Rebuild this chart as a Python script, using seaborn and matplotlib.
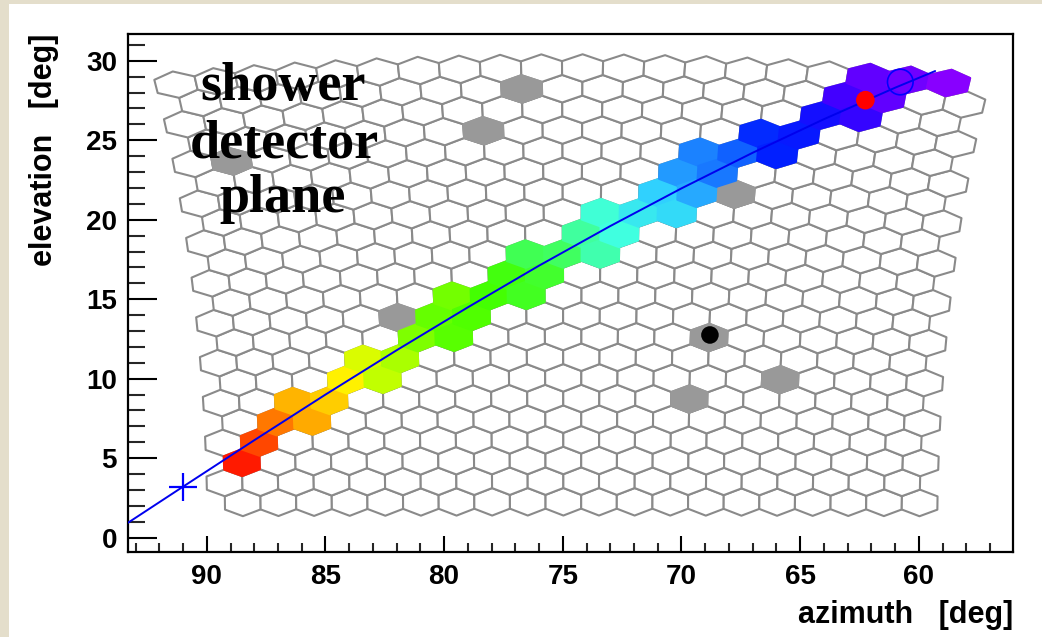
import numpy as np
import matplotlib
matplotlib.use("Agg")
import matplotlib.pyplot as plt
import seaborn as sns
import pandas as pd
from matplotlib.collections import PolyCollection
from matplotlib.colors import LinearSegmentedColormap
from matplotlib.patches import Rectangle
from matplotlib.ticker import MultipleLocator

# ---------------- data ----------------
# camera: 22 rows x 20 columns of 1.5 deg hexagonal pixels
n_rows, n_cols = 22, 20
pixel_deg = 1.5
axis_az, axis_el = 74.6, 15.9          # camera pointing

# triggered pixels on the track (row, column, pulse time in arbitrary units)
track_rows = [2, 3, 4, 5, 4, 5, 6, 7, 6, 7, 8, 9, 8, 10, 9, 10, 11, 10, 11, 12,
              12, 13, 12, 14, 13, 14, 15, 14, 16, 15, 17, 16, 17, 18, 17, 18, 19, 20, 19, 21,
              20, 21, 21]
track_cols = [0, 1, 1, 2, 2, 3, 3, 4, 4, 5, 5, 6, 6, 6, 7, 7, 8, 8, 9, 8,
              9, 10, 10, 10, 11, 11, 12, 12, 12, 13, 13, 13, 14, 14, 15, 15, 16, 16, 17, 17,
              17, 18, 19]
track_times = [0, 6, 13, 20, 19, 25, 30, 33, 35, 37, 40, 42, 43, 41, 44, 45, 46, 47, 48, 50,
               51, 55, 56, 59, 60, 62, 64, 63, 68, 67, 70, 71, 73, 78, 79, 81, 84, 88, 87, 92,
               92, 95, 100]

# noise pixels (triggered, off track)
noise_rows = [20, 18, 17, 15, 9, 8, 5, 6]
noise_cols = [8, 7, 1, 14, 5, 13, 13, 15]

# reconstructed shower-detector-plane track (azimuth, elevation)
line_az = [93.32, 91.0, 88.0, 85.0, 82.0, 79.0, 76.0, 73.0, 70.0, 67.0, 64.0, 61.0, 59.31]
line_el = [0.94, 3.21, 6.13, 9.0, 11.79, 14.49, 17.11, 19.6, 21.97, 24.21, 26.32, 28.3, 29.35]

# special points
cross_az, cross_el = [90.99], [3.18]
red_az, red_el = [62.25], [27.52]
black_az, black_el = [68.8], [12.75]
ring_az, ring_el = [60.78], [28.66]

# axes
x_range = (93.32, 56.03)
y_range = (-0.90, 31.68)

# ---------------- geometry helpers ----------------
def cam_to_sky(u, v):
    u = np.radians(u)
    ve = np.radians(v + axis_el)
    el = np.degrees(np.arcsin(np.cos(u) * np.sin(ve)))
    az = axis_az + np.degrees(np.arctan2(np.sin(u), np.cos(u) * np.cos(ve)))
    return az, el

row_step = pixel_deg * np.sqrt(3) / 2
R = pixel_deg / np.sqrt(3)
angles = np.radians([30, 90, 150, 210, 270, 330])

def pixel_poly(r, c):
    u0 = (9.5 - c) * pixel_deg + (0.375 if r % 2 else -0.375)
    v0 = (r - 10.5) * row_step
    uu = u0 + R * np.cos(angles)
    vv = v0 + R * np.sin(angles)
    az, el = cam_to_sky(uu, vv)
    return np.column_stack([az, el])

# ---------------- figure ----------------
sns.set_theme(style="white")
plt.rcParams['font.family'] = ['Liberation Sans', 'DejaVu Sans']
plt.rcParams['font.weight'] = 'bold'
plt.rcParams['axes.labelweight'] = 'bold'

fig = plt.figure(figsize=(10.42, 6.37), dpi=100)
fig.patch.set_facecolor('#e4decb')
fig.add_artist(Rectangle((9 / 1042, 0), 1, 1 - 4 / 637, transform=fig.transFigure,
                         facecolor='white', edgecolor='none', zorder=-1))

ax = fig.add_axes([128 / 1042, 1 - 552 / 637, 885 / 1042, 518 / 637])
ax.set_facecolor('white')

# all camera pixels
all_polys = [pixel_poly(r, c) for r in range(n_rows) for c in range(n_cols)]
ax.add_collection(PolyCollection(all_polys, facecolors='white', edgecolors='#8a8a8a',
                                 linewidths=1.5, zorder=1))

# noise pixels
noise_polys = [pixel_poly(r, c) for r, c in zip(noise_rows, noise_cols)]
ax.add_collection(PolyCollection(noise_polys, facecolors='#999999', edgecolors='#999999',
                                 linewidths=1.5, zorder=2))

# track pixels coloured by time
cmap = LinearSegmentedColormap.from_list('roottime', [
    (0.00, '#ff1a00'), (0.06, '#ff4800'), (0.13, '#ff7800'), (0.20, '#ffb400'),
    (0.25, '#ffcc00'), (0.30, '#fff200'), (0.34, '#ccff00'), (0.37, '#a8ff00'),
    (0.41, '#70ff00'), (0.45, '#44ff00'), (0.50, '#40ff50'), (0.55, '#40ffa0'),
    (0.60, '#40ffe0'), (0.64, '#30d0ff'), (0.69, '#2090ff'), (0.73, '#1060ff'),
    (0.79, '#0020ff'), (0.84, '#1010ff'), (0.88, '#4000ff'), (0.92, '#6000ff'),
    (1.00, '#8800ff')])
tnorm = plt.Normalize(min(track_times), max(track_times))
track_colors = [cmap(tnorm(t)) for t in track_times]
track_polys = [pixel_poly(r, c) for r, c in zip(track_rows, track_cols)]
ax.add_collection(PolyCollection(track_polys, facecolors=track_colors, edgecolors=track_colors,
                                 linewidths=1.5, zorder=3))

# track line
track_df = pd.DataFrame({'az': line_az, 'el': line_el})
sns.lineplot(data=track_df, x='az', y='el', sort=False, color='#0000ee', linewidth=1.4,
             ax=ax, zorder=5)

# markers
sns.scatterplot(x=cross_az, y=cross_el, marker='+', s=380, color='#0000ff', linewidth=1.6,
                ax=ax, zorder=6)
sns.scatterplot(x=red_az, y=red_el, marker='o', s=180, color='#ff0000', edgecolor='none',
                ax=ax, zorder=6)
sns.scatterplot(x=black_az, y=black_el, marker='o', s=160, color='black', edgecolor='none',
                ax=ax, zorder=6)
ax.scatter(ring_az, ring_el, marker='o', s=340, facecolors='none', edgecolors='#0000ff',
           linewidths=1.2, zorder=6)

ax.set_xlim(*x_range)
ax.set_ylim(*y_range)

# axes styling (ROOT-like)
for s in ax.spines.values():
    s.set_visible(True)
    s.set_color('black')
    s.set_linewidth(1.6)

ax.xaxis.set_major_locator(MultipleLocator(5))
ax.xaxis.set_minor_locator(MultipleLocator(1))
ax.yaxis.set_major_locator(MultipleLocator(5))
ax.yaxis.set_minor_locator(MultipleLocator(1))
ax.tick_params(axis='x', which='major', direction='in', length=11.5, width=1.5,
               labelsize=20, pad=9, bottom=True, top=False, colors='black')
ax.tick_params(axis='x', which='minor', direction='in', length=6.5, width=1.5,
               bottom=True, top=False)
ax.tick_params(axis='y', which='major', direction='in', length=21, width=1.5,
               labelsize=20, pad=8, left=True, right=False, colors='black')
ax.tick_params(axis='y', which='minor', direction='in', length=12.5, width=1.5,
               left=True, right=False)

ax.set_xlabel('azimuth   [deg]', fontsize=22, loc='right', color='black')
ax.xaxis.set_label_coords(1.0, -0.093)
ax.set_ylabel('elevation   [deg]', fontsize=22, loc='top', color='black')
ax.yaxis.set_label_coords(-0.078, 1.0)

# annotation
for word, (px, py) in zip(['shower', 'detector', 'plane'],
                          [(283, 100), (284, 158), (283, 212)]):
    fig.text(px / 1042, 1 - py / 637, word, ha='center', va='baseline',
             family='Liberation Serif', fontweight='bold', fontsize=39, color='black',
             zorder=10)

fig.savefig('out.png', dpi=100, facecolor=fig.get_facecolor())
